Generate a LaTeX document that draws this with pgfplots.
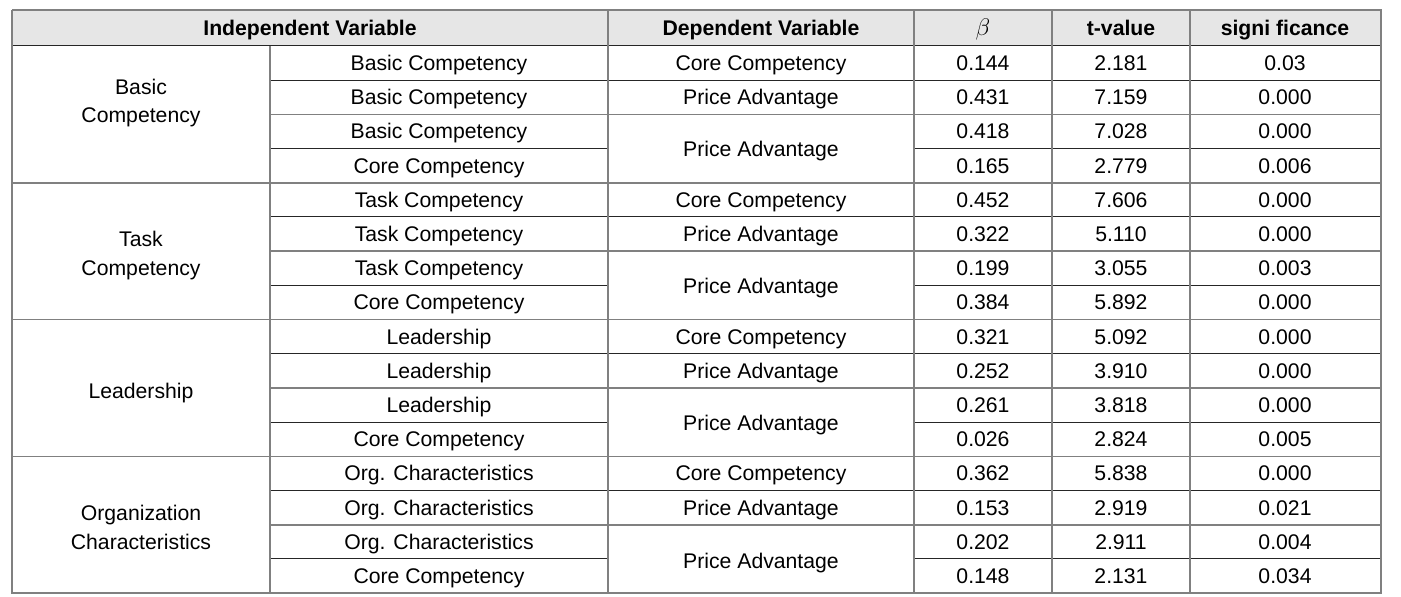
\documentclass[border=0pt]{standalone}
\usepackage{pgfplots}
\usepackage{pgfplotstable}
\pgfplotsset{compat=1.18}
\usepackage{fontspec}
\setmainfont{Liberation Sans}
\definecolor{hdr}{HTML}{E6E6E6}
\definecolor{lg}{HTML}{808080}
\definecolor{dk}{HTML}{262626}

\pgfplotstableread{
y c2 c4 c5 c6
70.6 {Basic Competency} 0.144 2.181 0.03
104.8 {Basic Competency} 0.431 7.159 0.000
139.0 {Basic Competency} 0.418 7.028 0.000
173.2 {Core Competency} 0.165 2.779 0.006
207.4 {Task Competency} 0.452 7.606 0.000
241.6 {Task Competency} 0.322 5.110 0.000
275.8 {Task Competency} 0.199 3.055 0.003
310.0 {Core Competency} 0.384 5.892 0.000
344.2 {Leadership} 0.321 5.092 0.000
378.4 {Leadership} 0.252 3.910 0.000
412.6 {Leadership} 0.261 3.818 0.000
446.8 {Core Competency} 0.026 2.824 0.005
481.0 {Org. Characteristics} 0.362 5.838 0.000
515.2 {Org. Characteristics} 0.153 2.919 0.021
549.4 {Org. Characteristics} 0.202 2.911 0.004
583.6 {Core Competency} 0.148 2.131 0.034
}\rows

\pgfplotstableread{
y l
70.6 {Core Competency}
104.8 {Price Advantage}
157.0 {Price Advantage}
207.4 {Core Competency}
241.6 {Price Advantage}
294.0 {Price Advantage}
344.2 {Core Competency}
378.4 {Price Advantage}
431.0 {Price Advantage}
481.0 {Core Competency}
515.2 {Price Advantage}
568.0 {Price Advantage}
}\dep

\pgfplotstableread{
y l
94.5 {Basic}
122.5 {Competency}
246.5 {Task}
275.5 {Competency}
398.5 {Leadership}
520.5 {Organization}
549.5 {Characteristics}
}\grp

\pgfplotstableread{
x y l
310 36 {Independent Variable}
761 36 {Dependent Variable}
1121 36 {t-value}
1285 36 {signi\ ficance}
}\head

\begin{document}
\begin{tikzpicture}
\begin{axis}[
  width=700.5pt, height=298.5pt, scale only axis, hide axis, clip=false,
  xmin=0, xmax=1401, ymin=0, ymax=597, y dir=reverse,
  txt/.style={only marks, mark=none, nodes near coords, point meta=explicit symbolic,
    every node near coord/.append style={anchor=base, inner sep=0pt, text=black,
      font=\fontsize{10.6}{12}\selectfont}},
  gl/.style={lg, line width=0.75pt, mark=none},
  dl/.style={dk, line width=0.5pt, mark=none},
]
% invisible frame for bounding box
\addplot[draw=none, mark=none] coordinates {(0,0) (1401,597)};
% header fill
\addplot[fill=hdr, draw=none, mark=none] coordinates {(12,10) (1381,10) (1381,46) (12,46) (12,10)};

% inner dark horizontal lines
\addplot[dl] coordinates {(12,46) (1381,46)};
\addplot[dl] coordinates {(270,80.2) (1381,80.2)};
\addplot[dl] coordinates {(270,148.6) (608,148.6)};
\addplot[dl] coordinates {(914,148.6) (1381,148.6)};
\addplot[dl] coordinates {(270,217.0) (1381,217.0)};
\addplot[dl] coordinates {(270,285.4) (608,285.4)};
\addplot[dl] coordinates {(914,285.4) (1381,285.4)};
\addplot[dl] coordinates {(270,353.8) (1381,353.8)};
\addplot[dl] coordinates {(270,422.2) (608,422.2)};
\addplot[dl] coordinates {(914,422.2) (1381,422.2)};
\addplot[dl] coordinates {(270,490.6) (1381,490.6)};
\addplot[dl] coordinates {(270,559.0) (608,559.0)};
\addplot[dl] coordinates {(914,559.0) (1381,559.0)};
% gray horizontal lines
\addplot[gl] coordinates {(270,114.4) (1381,114.4)};
\addplot[gl] coordinates {(270,251.2) (1381,251.2)};
\addplot[gl] coordinates {(270,388.0) (1381,388.0)};
\addplot[gl] coordinates {(270,524.8) (1381,524.8)};
\addplot[gl] coordinates {(12,182.8) (1381,182.8)};
\addplot[gl] coordinates {(12,319.6) (1381,319.6)};
\addplot[gl] coordinates {(12,456.4) (1381,456.4)};
% vertical lines
\addplot[gl] coordinates {(270,46) (270,593.2)};
\addplot[gl] coordinates {(608,10) (608,593.2)};
\addplot[gl] coordinates {(914,10) (914,593.2)};
\addplot[gl] coordinates {(1052,10) (1052,593.2)};
\addplot[gl] coordinates {(1190,10) (1190,593.2)};
% outer border
\addplot[lg, line width=1pt, mark=none] coordinates {(12,10) (1381,10) (1381,593.2) (12,593.2) (12,10)};

% texts
\addplot[txt] table[x expr=439, y=y, meta=c2] {\rows};
\addplot[txt] table[x expr=983, y=y, meta=c4] {\rows};
\addplot[txt] table[x expr=1121, y=y, meta=c5] {\rows};
\addplot[txt] table[x expr=1285, y=y, meta=c6] {\rows};
\addplot[txt] table[x expr=761, y=y, meta=l] {\dep};
\addplot[txt] table[x expr=141, y=y, meta=l] {\grp};
\addplot[txt, every node near coord/.append style={font=\fontsize{10.6}{12}\selectfont\bfseries}] table[x=x, y=y, meta=l] {\head};
\addplot[txt, every node near coord/.append style={font=\fontsize{12}{12}\selectfont}] coordinates {(983,36) [$\beta$]};
\end{axis}
\end{tikzpicture}
\end{document}
